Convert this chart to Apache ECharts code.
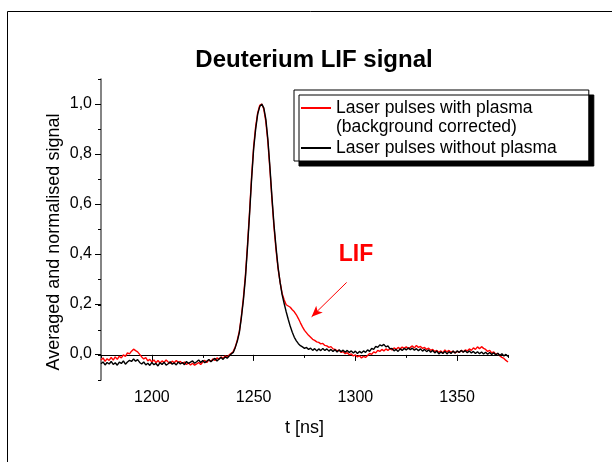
<!DOCTYPE html>
<html>
<head>
<meta charset="utf-8">
<script src="https://cdn.jsdelivr.net/npm/echarts@6/dist/echarts.min.js"></script>
<style>
  html, body { margin: 0; padding: 0; background: #fff; }
  #chart { width: 612px; height: 462px; }
</style>
</head>
<body>
<div id="chart"></div>
<script>
// time axis, ns
const times = [
  1175, 1176, 1177, 1178, 1179, 1180, 1181, 1182, 1183, 1184,
  1185, 1186, 1187, 1188, 1189, 1190, 1191, 1192, 1193, 1194,
  1195, 1196, 1197, 1198, 1199, 1200, 1201, 1202, 1203, 1204,
  1205, 1206, 1207, 1208, 1209, 1210, 1211, 1212, 1213, 1214,
  1215, 1216, 1217, 1218, 1219, 1220, 1221, 1222, 1223, 1224,
  1225, 1226, 1227, 1228, 1229, 1230, 1231, 1232, 1233, 1234,
  1235, 1236, 1237, 1238, 1239, 1240, 1241, 1242, 1243, 1244,
  1245, 1246, 1247, 1248, 1249, 1250, 1251, 1252, 1253, 1254,
  1255, 1256, 1257, 1258, 1259, 1260, 1261, 1262, 1263, 1264,
  1265, 1266, 1267, 1268, 1269, 1270, 1271, 1272, 1273, 1274,
  1275, 1276, 1277, 1278, 1279, 1280, 1281, 1282, 1283, 1284,
  1285, 1286, 1287, 1288, 1289, 1290, 1291, 1292, 1293, 1294,
  1295, 1296, 1297, 1298, 1299, 1300, 1301, 1302, 1303, 1304,
  1305, 1306, 1307, 1308, 1309, 1310, 1311, 1312, 1313, 1314,
  1315, 1316, 1317, 1318, 1319, 1320, 1321, 1322, 1323, 1324,
  1325, 1326, 1327, 1328, 1329, 1330, 1331, 1332, 1333, 1334,
  1335, 1336, 1337, 1338, 1339, 1340, 1341, 1342, 1343, 1344,
  1345, 1346, 1347, 1348, 1349, 1350, 1351, 1352, 1353, 1354,
  1355, 1356, 1357, 1358, 1359, 1360, 1361, 1362, 1363, 1364,
  1365, 1366, 1367, 1368, 1369, 1370, 1371, 1372, 1373, 1374,
  1375
];

// with plasma (background corrected) - red
const withPlasma = [
  -0.020, -0.012, -0.026, -0.015, -0.022, -0.010, -0.021, -0.008, -0.018, -0.005,
  -0.012, 0.000, -0.006, 0.008, 0.004, 0.015, 0.023, 0.017, 0.012, 0.002,
  -0.008, -0.016, -0.011, -0.024, -0.018, -0.028, -0.020, -0.031, -0.022, -0.032,
  -0.024, -0.030, -0.020, -0.028, -0.034, -0.025, -0.031, -0.022, -0.030, -0.026,
  -0.034, -0.028, -0.038, -0.032, -0.040, -0.033, -0.041, -0.036, -0.030, -0.038,
  -0.028, -0.022, -0.030, -0.020, -0.026, -0.016, -0.022, -0.012, -0.018, -0.008,
  -0.014, -0.004, -0.010, 0.000, 0.006, 0.014, 0.032, 0.060, 0.095, 0.155,
  0.230, 0.320, 0.440, 0.570, 0.710, 0.830, 0.910, 0.965, 0.995, 1.000,
  0.980, 0.930, 0.850, 0.740, 0.620, 0.510, 0.420, 0.345, 0.290, 0.245,
  0.220, 0.200, 0.195, 0.190, 0.180, 0.172, 0.160, 0.145, 0.128, 0.112,
  0.098, 0.088, 0.078, 0.070, 0.062, 0.058, 0.052, 0.050, 0.044, 0.046,
  0.038, 0.036, 0.030, 0.033, 0.024, 0.022, 0.016, 0.019, 0.010, 0.013,
  0.005, 0.009, 0.001, 0.004, -0.004, 0.000, -0.008, -0.003, -0.012, -0.006,
  -0.010, -0.002, 0.006, 0.002, 0.012, 0.008, 0.018, 0.014, 0.022, 0.016,
  0.024, 0.018, 0.026, 0.020, 0.028, 0.022, 0.030, 0.024, 0.031, 0.026,
  0.032, 0.025, 0.030, 0.036, 0.028, 0.038, 0.030, 0.034, 0.026, 0.030,
  0.022, 0.027, 0.018, 0.022, 0.014, 0.018, 0.010, 0.016, 0.008, 0.020,
  0.012, 0.018, 0.010, 0.015, 0.008, 0.014, 0.010, 0.018, 0.012, 0.020,
  0.016, 0.024, 0.018, 0.028, 0.022, 0.032, 0.025, 0.033, 0.026, 0.022,
  0.014, 0.018, 0.008, 0.012, 0.002, 0.006, -0.004, -0.010, -0.014, -0.022,
  -0.028
];

// without plasma - black
const withoutPlasma = [
  -0.035, -0.028, -0.040, -0.030, -0.036, -0.026, -0.038, -0.031, -0.041, -0.029,
  -0.034, -0.024, -0.037, -0.028, -0.022, -0.026, -0.016, -0.025, -0.019, -0.030,
  -0.036, -0.028, -0.040, -0.033, -0.042, -0.030, -0.039, -0.034, -0.044, -0.031,
  -0.038, -0.029, -0.041, -0.035, -0.027, -0.037, -0.032, -0.040, -0.028, -0.036,
  -0.030, -0.039, -0.026, -0.034, -0.029, -0.024, -0.033, -0.027, -0.020, -0.030,
  -0.022, -0.031, -0.025, -0.018, -0.027, -0.020, -0.014, -0.024, -0.016, -0.010,
  -0.018, -0.008, -0.013, -0.004, 0.004, 0.010, 0.030, 0.055, 0.090, 0.150,
  0.220, 0.310, 0.430, 0.560, 0.700, 0.820, 0.900, 0.960, 0.990, 1.000,
  0.985, 0.940, 0.860, 0.750, 0.630, 0.520, 0.430, 0.350, 0.290, 0.240,
  0.205, 0.172, 0.142, 0.114, 0.090, 0.070, 0.056, 0.045, 0.037, 0.032,
  0.026, 0.030, 0.022, 0.027, 0.018, 0.025, 0.016, 0.024, 0.017, 0.026,
  0.018, 0.024, 0.015, 0.022, 0.014, 0.021, 0.012, 0.020, 0.013, 0.019,
  0.011, 0.018, 0.010, 0.016, 0.008, 0.015, 0.006, 0.014, 0.008, 0.016,
  0.010, 0.020, 0.014, 0.026, 0.022, 0.034, 0.030, 0.040, 0.036, 0.042,
  0.032, 0.036, 0.024, 0.026, 0.016, 0.022, 0.014, 0.024, 0.018, 0.026,
  0.020, 0.028, 0.021, 0.027, 0.019, 0.025, 0.017, 0.024, 0.015, 0.022,
  0.013, 0.020, 0.011, 0.018, 0.008, 0.016, 0.004, 0.012, 0.006, 0.014,
  0.004, 0.013, 0.006, 0.015, 0.008, 0.016, 0.010, 0.018, 0.011, 0.017,
  0.009, 0.016, 0.008, 0.014, 0.006, 0.013, 0.005, 0.012, 0.004, 0.011,
  0.003, 0.010, 0.002, 0.009, 0.000, 0.007, -0.002, 0.005, -0.004, 0.002,
  -0.006
];

const nameRed = "Laser pulses with plasma";
const nameRed2 = "(background corrected)";
const nameBlack = "Laser pulses without plasma";

const font = "'Liberation Sans', Arial, sans-serif";

const chart = echarts.init(document.getElementById("chart"), null, { renderer: "canvas" });

const option = {
  animation: false,
  backgroundColor: "#fff",
  title: {
    text: "Deuterium LIF signal",
    left: 309,
    top: 43,
    textAlign: "center",
    textStyle: { fontFamily: font, fontSize: 24, fontWeight: "bold", color: "#000" }
  },
  legend: {
    orient: "vertical",
    left: 294,
    top: 90,
    padding: [8, 32, 3, 6],
    itemGap: 20,
    itemWidth: 30,
    itemHeight: 10,
    selectedMode: false,
    itemStyle: { opacity: 0 },
    backgroundColor: "#fff",
    borderColor: "#000",
    borderWidth: 1,
    shadowColor: "#000",
    shadowBlur: 0,
    shadowOffsetX: 5,
    shadowOffsetY: 5,
    textStyle: { fontFamily: font, fontSize: 17.5, color: "#000", lineHeight: 20 },
    data: [nameRed, nameBlack]
  },
  grid: [
    // data area
    { left: 101, top: 79, width: 407, height: 301 },
    // major y ticks (0,0 ... 1,0)
    { left: 101, top: 104, width: 407, height: 250 },
    // major x ticks (1200 ... 1350)
    { left: 151.875, top: 79, width: 305.25, height: 301 }
  ],
  xAxis: [
    {
      gridIndex: 0, type: "value", min: 1175, max: 1375, interval: 25,
      axisLine: { lineStyle: { color: "#000", width: 1 } },
      axisTick: { length: 3, lineStyle: { color: "#000" } },
      axisLabel: { show: false },
      splitLine: { show: false },
      name: "t [ns]",
      nameLocation: "middle",
      nameGap: 39,
      nameTextStyle: { fontFamily: font, fontSize: 18, color: "#000" }
    },
    { gridIndex: 1, type: "value", min: 1175, max: 1375, show: false },
    {
      gridIndex: 2, type: "value", min: 1200, max: 1350, interval: 50,
      axisLine: { show: false },
      axisTick: { length: 6, lineStyle: { color: "#000" } },
      axisLabel: {
        fontFamily: font, fontSize: 16, color: "#000", margin: 10,
        formatter: v => String(v)
      },
      splitLine: { show: false }
    }
  ],
  yAxis: [
    {
      gridIndex: 0, type: "value", min: -0.1, max: 1.1, interval: 0.1,
      axisLine: { show: true, lineStyle: { color: "#666", width: 1.6 } },
      axisTick: { length: 3, lineStyle: { color: "#000" } },
      axisLabel: { show: false },
      splitLine: { show: false }
    },
    {
      gridIndex: 1, type: "value", min: 0, max: 1, interval: 0.2,
      axisLine: { show: false },
      axisTick: { length: 6, lineStyle: { color: "#000" } },
      axisLabel: {
        fontFamily: font, fontSize: 16, color: "#000", margin: 9,
        formatter: v => v.toFixed(1).replace(".", ",")
      },
      splitLine: { show: false }
    },
    { gridIndex: 2, type: "value", min: -0.1, max: 1.1, show: false }
  ],
  graphic: [
    {
      type: "rect",
      shape: { x: 7.5, y: 11.5, width: 700, height: 500 },
      style: { fill: "none", stroke: "#000", lineWidth: 1 },
      z: -1
    },
    {
      type: "text",
      x: 54, y: 242,
      rotation: Math.PI / 2,
      style: {
        text: "Averaged and normalised signal",
        font: "18px " + font,
        fill: "#000",
        textAlign: "center",
        textVerticalAlign: "middle"
      }
    },
    {
      type: "text",
      left: 336, top: 118,
      z: 100,
      style: { text: nameRed2, font: "17.5px " + font, fill: "#000" }
    }
  ],
  series: [
    {
      name: nameRed,
      type: "line",
      xAxisIndex: 0,
      yAxisIndex: 0,
      symbol: "none",
      lineStyle: { color: "#ff0000", width: 1.4 },
      itemStyle: { color: "#ff0000" },
      data: times.map((t, i) => [t, withPlasma[i]]),
      markLine: {
        silent: true,
        symbol: ["none", "arrow"],
        symbolSize: [7, 11],
        label: { show: false },
        lineStyle: { color: "#ff0000", width: 1, type: "solid" },
        data: [[{ coord: [1295.7, 0.289] }, { coord: [1278.5, 0.152] }]]
      },
      markPoint: {
        silent: true,
        symbolSize: 0,
        label: {
          show: true, position: "inside", formatter: "LIF",
          fontFamily: font, fontSize: 23, fontWeight: "bold", color: "#ff0000"
        },
        data: [{ coord: [1300.3, 0.4] }]
      }
    },
    {
      name: nameBlack,
      type: "line",
      xAxisIndex: 0,
      yAxisIndex: 0,
      symbol: "none",
      lineStyle: { color: "#000", width: 1.4 },
      itemStyle: { color: "#000" },
      data: times.map((t, i) => [t, withoutPlasma[i]])
    }
  ]
};

chart.setOption(option);
</script>
</body>
</html>
